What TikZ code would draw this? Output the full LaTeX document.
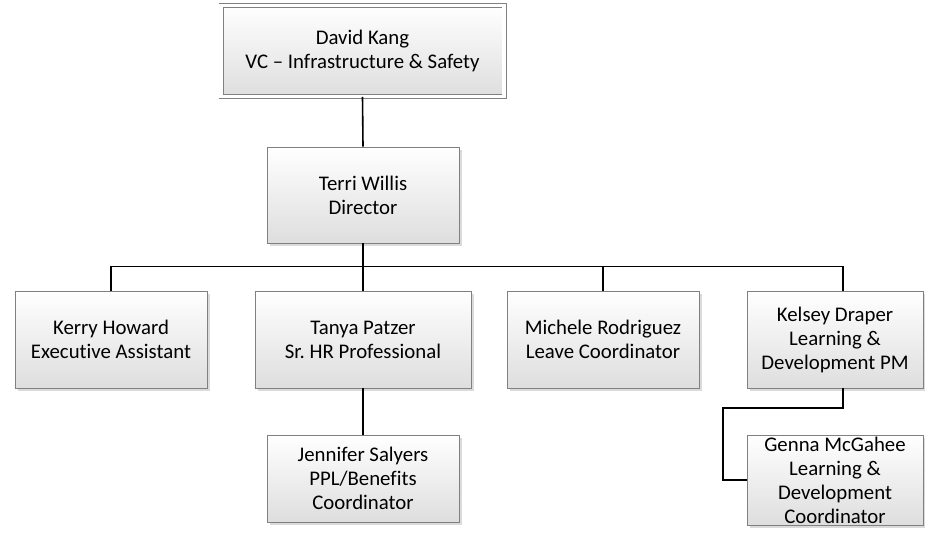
\documentclass[tikz,border=0pt]{standalone}
\usepackage{fontspec}
\setmainfont[Ligatures={NoCommon}]{Carlito}
\frenchspacing
\usetikzlibrary{calc, shadows}
\tikzset{
  pbox/.style={rectangle, draw=black!50, line width=0.9pt, top color=white, bottom color=black!13,
    drop shadow={fill=black!40, opacity=0.35, shadow xshift=2.5pt, shadow yshift=-2.5pt},
    align=center, inner sep=0pt, font=\fontsize{20.8}{24}\selectfont},
  topbox/.style={pbox, double=white, double distance=3.2pt},
  link/.style={draw=black, line width=1.6pt}
}

\begin{document}
\begin{tikzpicture}[x=1pt, y=-1pt]
	\useasboundingbox (0,0) rectangle (925,533);
	% head of the unit
	\node[topbox, minimum width=283pt, minimum height=91pt] (dk) at (362.5,51) {David Kang\\VC -- Infrastructure \& Safety};
	\node[pbox, minimum width=192pt, minimum height=96pt] (tw) at (363,195) {Terri Willis\\Director};
	% direct reports
	\node[pbox, minimum width=192pt, minimum height=97pt] (kh) at (111,339.5) {Kerry Howard\\Executive Assistant};
	\node[pbox, minimum width=216pt, minimum height=97pt] (tp) at (363,339.5) {Tanya Patzer\\Sr. HR Professional};
	\node[pbox, minimum width=192pt, minimum height=97pt] (mr) at (603,339.5) {Michele Rodriguez\\Leave Coordinator};
	\node[pbox, minimum width=176pt, minimum height=97pt] (kd) at (835,339.5) {Kelsey Draper\\Learning \&\\Development PM};
	% second level
	\node[pbox, minimum width=192pt, minimum height=87pt] (js) at (363,478.5) {Jennifer Salyers\\PPL/Benefits\\Coordinator};
	\node[pbox, minimum width=176pt, minimum height=90pt] (gm) at (835,480) {Genna McGahee\\Learning \&\\Development\\Coordinator};
	% connectors
	\draw[link] (dk.south) -- (tw.north);
	\draw[link] (tw.south) -- ++(0,23) coordinate (bus);
	\draw[link] (kh.north) |- (bus) -| ([xshift=8pt]kd.north);
	\draw[link] (tp.north) -- (tp.north |- bus);
	\draw[link] (mr.north) -- (mr.north |- bus);
	\draw[link] (tp.south) -- (js.north);
	\coordinate (bend) at (723,408);
	\draw[link] ([xshift=8pt]kd.south) |- (bend) |- (gm.west);
\end{tikzpicture}
\end{document}
